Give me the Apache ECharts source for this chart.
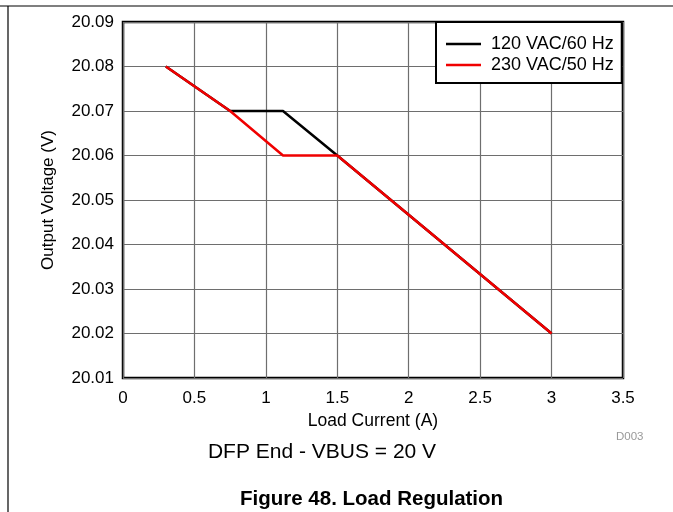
<!DOCTYPE html>
<html><head><meta charset="utf-8">
<script src="https://cdn.jsdelivr.net/npm/echarts@6/dist/echarts.min.js"></script>
<style>html,body{margin:0;padding:0;background:#fff}#c{width:673px;height:512px}</style>
</head><body><div id="c"></div>
<script>
const seriesNames = ['120 VAC/60 Hz', '230 VAC/50 Hz'];
const current120 = [0.3, 0.75, 1.12, 1.5, 3.0];
const voltage120 = [20.08, 20.07, 20.07, 20.06, 20.02];
const current230 = [0.3, 0.75, 1.12, 1.5, 3.0];
const voltage230 = [20.08, 20.07, 20.06, 20.06, 20.02];
const xTicks = [0, 0.5, 1, 1.5, 2, 2.5, 3, 3.5];
const yTicks = [20.01, 20.02, 20.03, 20.04, 20.05, 20.06, 20.07, 20.08, 20.09];
const colors = ['#000000', '#f00000'];
const font = 'Liberation Sans, Arial, sans-serif';

const chart = echarts.init(document.getElementById('c'), null, {renderer: 'canvas'});
const pairs = (xs, ys) => xs.map((x, i) => [x, ys[i]]);
chart.setOption({
  animation: false,
  backgroundColor: '#fff',
  grid: {left: 123, right: 50, top: 22, bottom: 134, show: true, borderColor: '#000', borderWidth: 2.5},
  xAxis: {
    type: 'value', min: xTicks[0], max: xTicks[xTicks.length - 1], interval: 0.5,
    name: 'Load Current (A)', nameLocation: 'middle', nameGap: 33,
    nameTextStyle: {fontFamily: font, fontSize: 17.5, color: '#000'},
    axisLine: {show: false}, axisTick: {show: false},
    axisLabel: {fontFamily: font, fontSize: 17, color: '#000', margin: 12},
    splitLine: {lineStyle: {color: '#6e6e6e', width: 1.2}}
  },
  yAxis: {
    type: 'value', min: yTicks[0], max: yTicks[yTicks.length - 1], interval: 0.01,
    name: 'Output Voltage (V)', nameLocation: 'middle', nameGap: 66,
    nameTextStyle: {fontFamily: font, fontSize: 17, color: '#000'},
    axisLine: {show: false}, axisTick: {show: false},
    axisLabel: {fontFamily: font, fontSize: 17, color: '#000', margin: 9,
      formatter: v => v.toFixed(2)},
    splitLine: {lineStyle: {color: '#6e6e6e', width: 1.2}}
  },
  legend: {
    left: 436, top: 22, orient: 'vertical',
    padding: [13, 8, 9, 10], itemGap: 3, itemWidth: 35, itemHeight: 2.5,
    borderColor: '#000', borderWidth: 2, backgroundColor: '#fff',
    icon: 'rect',
    textStyle: {fontFamily: font, fontSize: 18, color: '#000', padding: [0, 0, 0, 5]},
    data: seriesNames
  },
  series: [
    {name: seriesNames[0], type: 'line', data: pairs(current120, voltage120), symbol: 'none',
     lineStyle: {color: colors[0], width: 2.5}, itemStyle: {color: colors[0]}},
    {name: seriesNames[1], type: 'line', data: pairs(current230, voltage230), symbol: 'none',
     lineStyle: {color: colors[1], width: 2.5}, itemStyle: {color: colors[1]}}
  ],
  graphic: [
    {type: 'line', shape: {x1: 0, y1: 6, x2: 673, y2: 6}, style: {stroke: '#000', lineWidth: 1.2}},
    {type: 'line', shape: {x1: 8, y1: 6, x2: 8, y2: 512}, style: {stroke: '#000', lineWidth: 1.2}},
    {type: 'text', x: 616, y: 437, style: {text: 'D003', fill: '#999', font: '11.5px ' + font, textVerticalAlign: 'middle'}},
    {type: 'text', x: 322, y: 452, style: {text: 'DFP End - VBUS = 20 V', fill: '#000', font: '21px ' + font, textAlign: 'center', textVerticalAlign: 'middle'}},
    {type: 'text', x: 240, y: 499, style: {text: 'Figure 48. Load Regulation', fill: '#000', font: 'bold 20.5px ' + font, textVerticalAlign: 'middle'}}
  ]
});
</script></body></html>
